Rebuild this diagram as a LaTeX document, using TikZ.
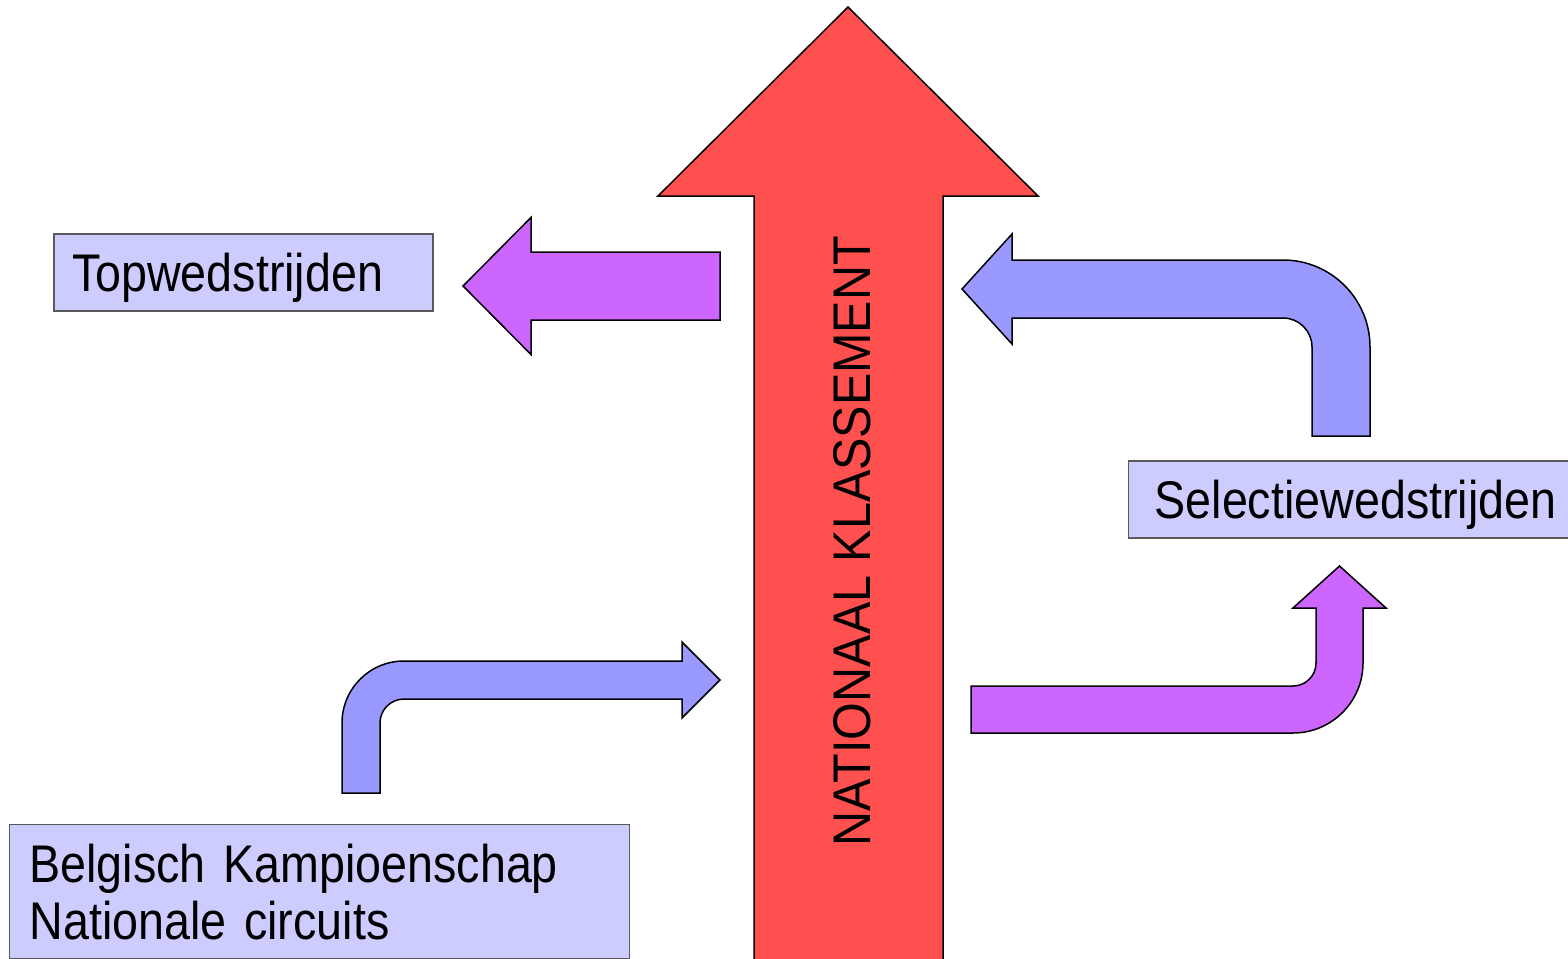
\documentclass[tikz,border=0pt]{standalone}
\usepackage{fontspec}
\setmainfont{Liberation Sans}[FakeStretch=0.88]
\newfontfamily\klfont{Liberation Sans}[FakeStretch=0.915]
\definecolor{klred}{HTML}{FF5050}
\definecolor{klpurple}{HTML}{CC66FF}
\definecolor{klblue}{HTML}{9999FF}
\definecolor{klbox}{HTML}{CCCCFF}
\tikzset{
  labelbox/.style={draw=black!65, fill=klbox, line width=0.6pt, align=left,
    minimum height=38.5pt, inner ysep=0pt},
  blockarrow/.style={draw=black, line width=0.75pt, line join=miter}
}
\begin{document}
\begin{tikzpicture}[x=0.5pt, y=-0.5pt, font=\fontsize{26.5}{28.5}\selectfont]
  \useasboundingbox (0,0) rectangle (1568,958);
  % big arrow in the middle
  \draw[blockarrow, fill=klred] (754,975) -- (754,196) -- (658,196) -- (848,7)
    -- (1038,196) -- (943,196) -- (943,975) -- cycle;
  \node[rotate=90, font=\klfont\fontsize{26.5}{28.5}\selectfont] (klassement) at (852,541.5) {NATIONAAL KLASSEMENT};
  % boxes
  \node[labelbox, text width=171.5pt, inner xsep=9pt, text depth=0pt] (top) at (243.5,272.5) {Topwedstrijden};
  \node[labelbox, anchor=west, text width=230pt, inner xsep=13pt, text depth=0pt] (selectie) at (1128,499.5) {Selectiewedstrijden};
  \node[labelbox, anchor=north west, text width=290pt, inner xsep=10pt, inner ysep=9.5pt]
    (bk) at (9,824) {Belgisch Kampioenschap\\Nationale circuits};
  % arrows
  \draw[blockarrow, fill=klpurple] (720,252) -- (531,252) -- (531,217.5) -- (463,286)
    -- (531,354.5) -- (531,320) -- (720,320) -- cycle;
  \draw[blockarrow, fill=klblue] (962,289) -- (1012,234) -- (1012,260) -- (1283,260)
    arc[start angle=270, end angle=360, radius=87] -- (1370,436) -- (1312,436)
    -- (1312,347) arc[start angle=0, end angle=-90, radius=29] -- (1012,318)
    -- (1012,344) -- cycle;
  \draw[blockarrow, fill=klblue] (342,793) -- (342,723)
    arc[start angle=180, end angle=270, radius=62] -- (682,661) -- (682,642)
    -- (720,680) -- (682,718) -- (682,699) -- (404,699)
    arc[start angle=270, end angle=180, radius=24] -- (380,793) -- cycle;
  \draw[blockarrow, fill=klpurple] (971,686) -- (1293,686)
    arc[start angle=90, end angle=0, radius=23] -- (1316,608) -- (1293,608)
    -- (1339.5,566) -- (1386,608) -- (1363,608) -- (1363,663)
    arc[start angle=0, end angle=90, radius=70] -- (971,733) -- cycle;
\end{tikzpicture}
\end{document}
